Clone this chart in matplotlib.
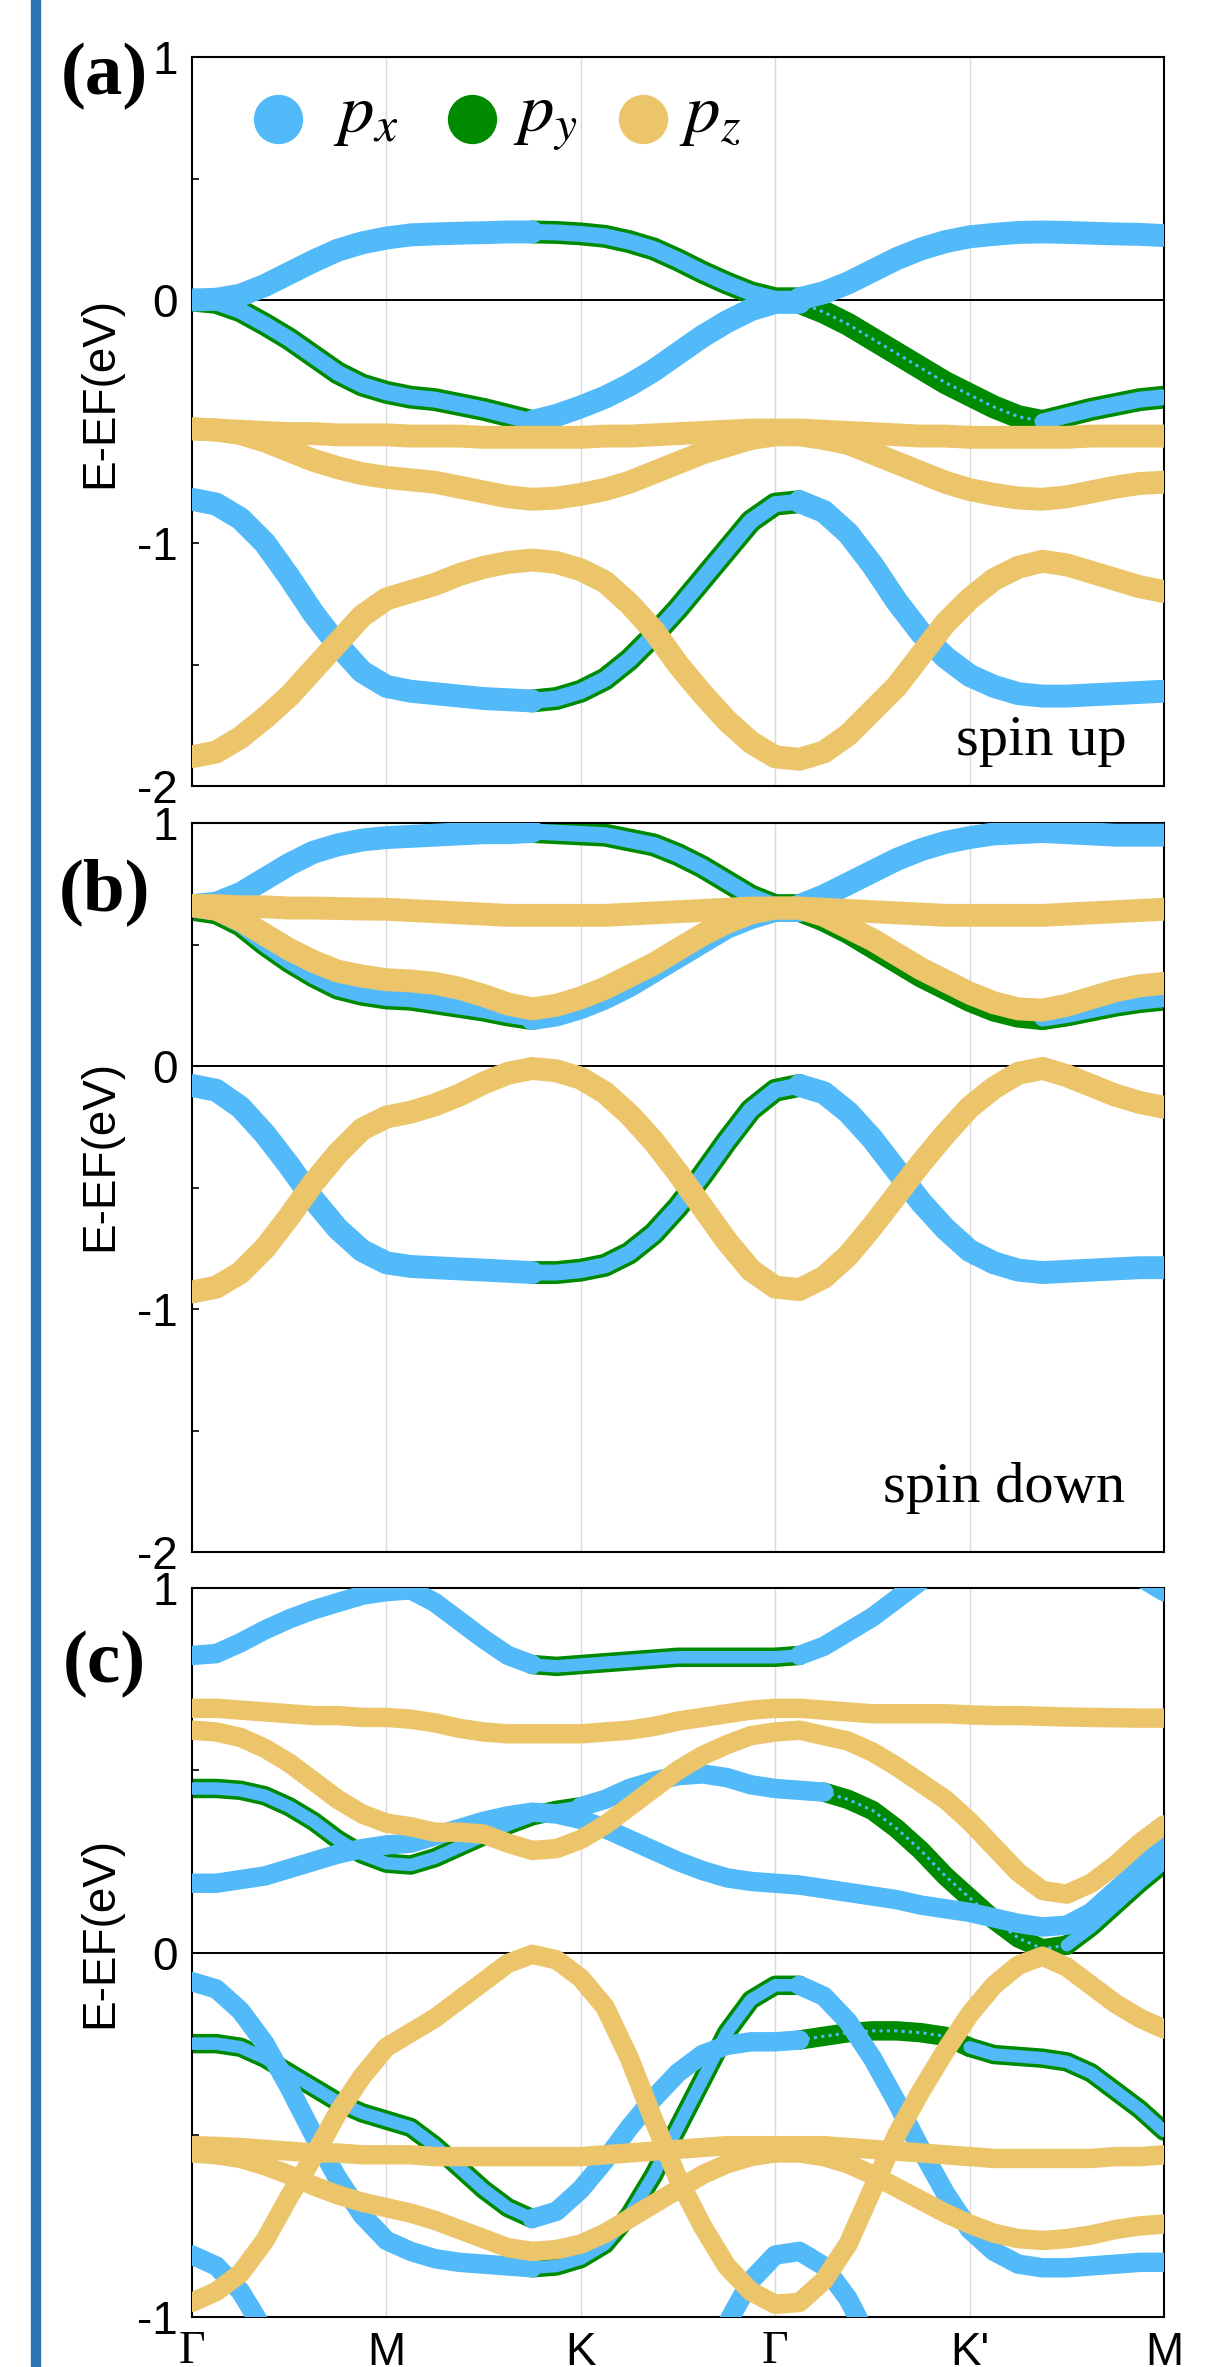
import numpy as np
import matplotlib
matplotlib.use("Agg")
import matplotlib.pyplot as plt
from matplotlib.patches import Rectangle

plt.rcParams['font.family'] = ['Liberation Sans', 'DejaVu Sans']
plt.rcParams['mathtext.fontset'] = 'stix'

BLUE = '#52BAF9'
GREEN = '#008A00'
GOLD = '#ECC56A'
BAR = '#2E75B6'

# k-path sampled 8 points per segment
kpath = np.arange(41) / 8.0
sym_pos = [0, 1, 2, 3, 4, 5]
sym_labels = ['Γ', 'M', 'K', 'Γ', "K'", 'M']
orbitals = ['$p_x$', '$p_y$', '$p_z$']

# ---------------- (a) spin up ----------------
a_px_top = [0.00, 0.003, 0.02, 0.06, 0.11, 0.16, 0.205, 0.235,
            0.255, 0.268, 0.272, 0.275, 0.277, 0.28, 0.28, 0.278,
            0.272, 0.262, 0.24, 0.21, 0.165, 0.115, 0.07, 0.03,
            0.005, 0.005, 0.03, 0.07, 0.12, 0.17, 0.21, 0.24,
            0.26, 0.27, 0.278, 0.28, 0.278, 0.275, 0.272, 0.27,
            0.265]
a_pxy_low = [0.00, -0.01, -0.045, -0.10, -0.16, -0.23, -0.30, -0.35,
             -0.38, -0.40, -0.41, -0.43, -0.45, -0.475, -0.50, -0.475,
             -0.44, -0.40, -0.35, -0.29, -0.22, -0.15, -0.09, -0.04,
             -0.01, -0.01, -0.05, -0.10, -0.16, -0.22, -0.28, -0.34,
             -0.39, -0.44, -0.48, -0.50, -0.475, -0.45, -0.43, -0.41,
             -0.40]
a_pz_flat = [-0.53, -0.535, -0.54, -0.545, -0.55, -0.55, -0.555, -0.555,
             -0.555, -0.56, -0.56, -0.56, -0.565, -0.565, -0.565, -0.565,
             -0.565, -0.56, -0.56, -0.555, -0.55, -0.545, -0.54, -0.535,
             -0.535, -0.535, -0.54, -0.545, -0.55, -0.555, -0.56, -0.56,
             -0.565, -0.565, -0.565, -0.565, -0.565, -0.56, -0.56, -0.56,
             -0.56]
a_pz_mid = [-0.53, -0.535, -0.55, -0.58, -0.62, -0.66, -0.69, -0.715,
            -0.73, -0.74, -0.75, -0.77, -0.79, -0.81, -0.82, -0.815,
            -0.80, -0.78, -0.75, -0.71, -0.67, -0.63, -0.60, -0.57,
            -0.555, -0.555, -0.57, -0.59, -0.63, -0.67, -0.71, -0.75,
            -0.78, -0.80, -0.815, -0.82, -0.81, -0.79, -0.77, -0.755,
            -0.75]
a_px_deep = [-0.82, -0.84, -0.90, -1.00, -1.14, -1.29, -1.42, -1.53,
             -1.59, -1.61, -1.62, -1.63, -1.64, -1.645, -1.65, -1.64,
             -1.61, -1.56, -1.48, -1.38, -1.27, -1.15, -1.03, -0.91,
             -0.84, -0.83, -0.87, -0.96, -1.09, -1.24, -1.37, -1.47,
             -1.545, -1.59, -1.62, -1.63, -1.63, -1.625, -1.62, -1.615,
             -1.61]
a_pz_deep = [-1.88, -1.86, -1.80, -1.72, -1.63, -1.52, -1.41, -1.30,
             -1.23, -1.20, -1.17, -1.13, -1.10, -1.08, -1.07, -1.08,
             -1.11, -1.16, -1.25, -1.36, -1.50, -1.62, -1.73, -1.82,
             -1.88, -1.89, -1.86, -1.79, -1.69, -1.59, -1.46, -1.33,
             -1.23, -1.15, -1.10, -1.075, -1.09, -1.12, -1.15, -1.18,
             -1.20]

# ---------------- (b) spin down ----------------
b_px_top = [0.66, 0.67, 0.71, 0.77, 0.83, 0.88, 0.91, 0.93,
            0.94, 0.945, 0.95, 0.955, 0.96, 0.96, 0.965, 0.96,
            0.955, 0.95, 0.93, 0.91, 0.87, 0.82, 0.76, 0.70,
            0.66, 0.66, 0.70, 0.75, 0.80, 0.85, 0.89, 0.92,
            0.94, 0.955, 0.96, 0.965, 0.96, 0.955, 0.95, 0.95,
            0.95]
b_pxy_low = [0.645, 0.63, 0.58, 0.50, 0.43, 0.37, 0.32, 0.295,
             0.28, 0.275, 0.26, 0.245, 0.23, 0.21, 0.195, 0.21,
             0.24, 0.28, 0.33, 0.39, 0.45, 0.51, 0.57, 0.61,
             0.64, 0.64, 0.60, 0.55, 0.49, 0.43, 0.37, 0.32,
             0.27, 0.23, 0.205, 0.195, 0.21, 0.23, 0.25, 0.265,
             0.275]
b_pz_flat = [0.66, 0.66, 0.655, 0.655, 0.65, 0.65, 0.648, 0.646,
             0.645, 0.64, 0.635, 0.63, 0.625, 0.62, 0.62, 0.62,
             0.62, 0.62, 0.625, 0.63, 0.635, 0.64, 0.645, 0.65,
             0.65, 0.65, 0.645, 0.64, 0.635, 0.63, 0.625, 0.62,
             0.62, 0.62, 0.62, 0.62, 0.625, 0.63, 0.635, 0.64,
             0.645]
b_pz_mid = [0.66, 0.645, 0.60, 0.54, 0.48, 0.43, 0.39, 0.37,
            0.355, 0.35, 0.34, 0.32, 0.29, 0.255, 0.235, 0.25,
            0.28, 0.32, 0.37, 0.42, 0.48, 0.54, 0.59, 0.63,
            0.65, 0.65, 0.62, 0.57, 0.52, 0.46, 0.40, 0.35,
            0.30, 0.26, 0.235, 0.23, 0.25, 0.28, 0.31, 0.33,
            0.34]
b_px_deep = [-0.08, -0.10, -0.17, -0.28, -0.41, -0.55, -0.67, -0.76,
             -0.81, -0.825, -0.83, -0.835, -0.84, -0.845, -0.85, -0.85,
             -0.84, -0.82, -0.77, -0.69, -0.58, -0.45, -0.31, -0.18,
             -0.10, -0.08, -0.11, -0.19, -0.30, -0.43, -0.56, -0.67,
             -0.76, -0.81, -0.84, -0.85, -0.845, -0.84, -0.835, -0.83,
             -0.83]
b_pz_deep = [-0.93, -0.91, -0.85, -0.75, -0.62, -0.48, -0.36, -0.26,
             -0.21, -0.19, -0.16, -0.12, -0.07, -0.03, -0.01, -0.02,
             -0.05, -0.11, -0.20, -0.31, -0.44, -0.58, -0.72, -0.84,
             -0.91, -0.92, -0.87, -0.78, -0.66, -0.53, -0.40, -0.28,
             -0.17, -0.09, -0.03, -0.01, -0.04, -0.08, -0.12, -0.15,
             -0.17]

# ---------------- (c) ----------------
c_u1 = [0.815, 0.82, 0.85, 0.885, 0.915, 0.94, 0.96, 0.98,
        0.99, 0.995, 0.96, 0.91, 0.86, 0.815, 0.79, 0.785,
        0.79, 0.795, 0.80, 0.805, 0.81, 0.81, 0.81, 0.81,
        0.81, 0.815, 0.84, 0.88, 0.92, 0.97, 1.02, 1.06,
        1.10, 1.12, 1.13, 1.13, 1.12, 1.10, 1.07, 1.03,
        0.99]
c_u2 = [0.67, 0.67, 0.665, 0.66, 0.655, 0.65, 0.65, 0.645,
        0.645, 0.64, 0.63, 0.615, 0.605, 0.60, 0.60, 0.60,
        0.60, 0.605, 0.61, 0.62, 0.635, 0.645, 0.655, 0.665,
        0.67, 0.67, 0.665, 0.66, 0.655, 0.655, 0.655, 0.655,
        0.652, 0.65, 0.65, 0.648, 0.646, 0.645, 0.644, 0.643,
        0.643]
c_u3 = [0.61, 0.605, 0.59, 0.56, 0.52, 0.47, 0.42, 0.38,
        0.355, 0.345, 0.33, 0.33, 0.325, 0.30, 0.28, 0.285,
        0.31, 0.35, 0.40, 0.45, 0.50, 0.54, 0.57, 0.595,
        0.605, 0.61, 0.595, 0.58, 0.55, 0.51, 0.465, 0.42,
        0.36, 0.29, 0.22, 0.17, 0.16, 0.19, 0.24, 0.30,
        0.35]
c_u4 = [0.45, 0.45, 0.445, 0.43, 0.40, 0.36, 0.31, 0.27,
        0.245, 0.24, 0.26, 0.29, 0.32, 0.35, 0.375, 0.39,
        0.40, 0.42, 0.45, 0.47, 0.485, 0.49, 0.48, 0.46,
        0.45, 0.445, 0.44, 0.42, 0.39, 0.34, 0.28, 0.21,
        0.15, 0.09, 0.04, 0.01, 0.02, 0.07, 0.13, 0.19,
        0.245]
c_u5 = [0.19, 0.19, 0.20, 0.21, 0.23, 0.25, 0.27, 0.285,
        0.295, 0.30, 0.32, 0.34, 0.36, 0.375, 0.385, 0.38,
        0.365, 0.34, 0.31, 0.28, 0.25, 0.225, 0.205, 0.195,
        0.19, 0.185, 0.175, 0.165, 0.155, 0.145, 0.13, 0.12,
        0.11, 0.095, 0.08, 0.07, 0.075, 0.11, 0.17, 0.23,
        0.29]
c_l1 = [-0.08, -0.10, -0.16, -0.25, -0.37, -0.50, -0.62, -0.72,
        -0.79, -0.82, -0.84, -0.85, -0.855, -0.86, -0.865, -0.86,
        -0.84, -0.80, -0.72, -0.61, -0.48, -0.35, -0.22, -0.13,
        -0.09, -0.09, -0.12, -0.19, -0.29, -0.41, -0.54, -0.66,
        -0.76, -0.82, -0.855, -0.865, -0.865, -0.86, -0.855, -0.85,
        -0.85]
c_l2 = [-0.25, -0.25, -0.26, -0.29, -0.33, -0.37, -0.41, -0.44,
        -0.46, -0.48, -0.53, -0.59, -0.65, -0.70, -0.73, -0.71,
        -0.65, -0.57, -0.48, -0.40, -0.33, -0.28, -0.255, -0.245,
        -0.245, -0.24, -0.23, -0.22, -0.215, -0.215, -0.22, -0.23,
        -0.26, -0.28, -0.285, -0.29, -0.30, -0.33, -0.38, -0.43,
        -0.49]
c_l3 = [-0.53, -0.532, -0.535, -0.54, -0.545, -0.55, -0.55, -0.555,
        -0.555, -0.555, -0.56, -0.56, -0.56, -0.56, -0.56, -0.56,
        -0.56, -0.555, -0.55, -0.545, -0.54, -0.535, -0.53, -0.53,
        -0.53, -0.53, -0.53, -0.535, -0.54, -0.545, -0.55, -0.555,
        -0.56, -0.565, -0.565, -0.565, -0.565, -0.565, -0.56, -0.56,
        -0.555]
c_l4 = [-0.96, -0.93, -0.88, -0.79, -0.67, -0.56, -0.44, -0.34,
        -0.26, -0.22, -0.18, -0.13, -0.08, -0.03, -0.005, -0.02,
        -0.07, -0.15, -0.29, -0.46, -0.62, -0.75, -0.86, -0.93,
        -0.965, -0.96, -0.90, -0.80, -0.65, -0.50, -0.38, -0.27,
        -0.17, -0.09, -0.035, -0.01, -0.04, -0.09, -0.14, -0.18,
        -0.21]
c_l5 = [-0.55, -0.555, -0.565, -0.585, -0.61, -0.64, -0.665, -0.685,
        -0.70, -0.715, -0.735, -0.76, -0.785, -0.81, -0.82, -0.815,
        -0.80, -0.77, -0.73, -0.69, -0.65, -0.61, -0.58, -0.56,
        -0.55, -0.55, -0.56, -0.58, -0.61, -0.645, -0.68, -0.715,
        -0.745, -0.77, -0.785, -0.79, -0.785, -0.775, -0.76, -0.75,
        -0.745]
c_l6 = [-0.83, -0.86, -0.93, -1.04, -1.17, -1.30, -1.42, -1.52,
        -1.58, -1.60, -1.61, -1.62, -1.63, -1.64, -1.64, -1.63,
        -1.60, -1.55, -1.46, -1.36, -1.25, -1.13, -1.02, -0.90,
        -0.83, -0.82, -0.86, -0.95, -1.08, -1.22, -1.35, -1.46,
        -1.54, -1.59, -1.62, -1.63, -1.63, -1.62, -1.62, -1.61,
        -1.61]

# orbital character of each stretch of a band (index ranges on kpath)
UPPER = [(0, 14, 'x'), (14, 25, 'xy'), (25, 40, 'x')]
LOWER = [(0, 14, 'xy'), (14, 25, 'x'), (25, 35, 'y'), (35, 40, 'xy')]
PZ = [(0, 40, 'z')]


def draw_band(ax, e, parts, w):
    e = np.asarray(e)
    kw = dict(solid_capstyle='round', solid_joinstyle='round')
    for i0, i1, st in parts:
        x = kpath[i0:i1 + 1]
        y = e[i0:i1 + 1]
        if st == 'z':
            ax.plot(x, y, color=GOLD, lw=w, zorder=4, **kw)
        elif st == 'x':
            ax.plot(x, y, color=BLUE, lw=w, zorder=3, **kw)
        elif st == 'xy':
            ax.plot(x, y, color=GREEN, lw=w, zorder=2, **kw)
            ax.plot(x, y, color=BLUE, lw=w - 5, zorder=3, **kw)
        elif st == 'y':
            ax.plot(x, y, color=GREEN, lw=w, zorder=2, **kw)
            ax.plot(x, y, color=BLUE, lw=2.2, ls=(0, (1, 1.4)), zorder=3)


def setup(ax, ylo, yhi, xlabels):
    ax.set_xlim(0, 5)
    ax.set_ylim(ylo, yhi)
    for x in [1, 2, 3, 4]:
        ax.axvline(x, color='#d9d9d9', lw=1.0, zorder=0)
    ax.axhline(0, color='black', lw=1.4, zorder=1)
    yt = np.arange(ylo, yhi + 1)
    ax.set_yticks(yt)
    ax.set_yticklabels(['%d' % v for v in yt])
    ax.set_yticks(np.arange(ylo + 0.5, yhi, 1.0), minor=True)
    ax.tick_params(axis='y', which='both', direction='in', length=5,
                   width=1.2, labelsize=33, pad=10, right=False)
    if xlabels:
        ax.set_xticks(sym_pos)
        ax.set_xticklabels(sym_labels)
        ax.tick_params(axis='x', length=0, labelsize=33, pad=10)
        for t in ax.get_xticklabels():
            if t.get_text() == 'Γ':
                t.set_fontfamily('Liberation Serif')
    else:
        ax.set_xticks([])
    for s in ax.spines.values():
        s.set_linewidth(1.5)


fig = plt.figure(figsize=(12.18, 23.67), dpi=100)
fig.patches.append(Rectangle((31 / 1218, 0), 9 / 1218, 1, transform=fig.transFigure,
                             color=BAR, zorder=0))

L, WD, H = 192 / 1218, 972 / 1218, 729 / 2367
ax_a = fig.add_axes([L, 1 - 786 / 2367, WD, H])
ax_b = fig.add_axes([L, 1 - 1552 / 2367, WD, H])
ax_c = fig.add_axes([L, 1 - 2317 / 2367, WD, H])

setup(ax_a, -2, 1, False)
setup(ax_b, -2, 1, False)
setup(ax_c, -1, 1, True)

W = 16.5
draw_band(ax_a, a_px_top, UPPER, W)
draw_band(ax_a, a_pxy_low, LOWER, W)
draw_band(ax_a, a_px_deep, UPPER, W)
draw_band(ax_a, a_pz_flat, PZ, W)
draw_band(ax_a, a_pz_mid, PZ, W)
draw_band(ax_a, a_pz_deep, PZ, W)

draw_band(ax_b, b_px_top, UPPER, W)
draw_band(ax_b, b_pxy_low, LOWER, W)
draw_band(ax_b, b_px_deep, UPPER, W)
draw_band(ax_b, b_pz_flat, PZ, W)
draw_band(ax_b, b_pz_mid, PZ, W)
draw_band(ax_b, b_pz_deep, PZ, W)

WC = 14
draw_band(ax_c, c_u1, UPPER, WC)
draw_band(ax_c, c_u4, [(0, 16, 'xy'), (16, 26, 'x'), (26, 36, 'y'), (36, 40, 'xy')], WC)
draw_band(ax_c, c_u5, [(0, 40, 'x')], WC)
draw_band(ax_c, c_l1, UPPER, WC)
draw_band(ax_c, c_l2, [(0, 14, 'xy'), (14, 25, 'x'), (25, 32, 'y'), (32, 40, 'xy')], WC)
draw_band(ax_c, c_l6, [(0, 40, 'x')], WC)
for band in (c_u2, c_u3, c_l3, c_l4, c_l5):
    draw_band(ax_c, band, PZ, WC)

# orbital key in (a)
key_marker_x = [0.0885, 0.2881, 0.464]
key_text_x = [0.145, 0.330, 0.501]
for mx, tx, col, lab in zip(key_marker_x, key_text_x, (BLUE, GREEN, GOLD), orbitals):
    ax_a.plot([mx], [0.915], marker='o', ms=34.5, color=col, mec=col, ls='none',
              transform=ax_a.transAxes, zorder=6, clip_on=False)
    ax_a.text(tx, 0.897, lab, transform=ax_a.transAxes, fontsize=51,
              va='baseline', ha='left', zorder=6)

ax_a.text(0.962, 0.0425, 'spin up', transform=ax_a.transAxes, ha='right',
          va='baseline', fontsize=42, family='Liberation Serif')
ax_b.text(0.960, 0.068, 'spin down', transform=ax_b.transAxes, ha='right',
          va='baseline', fontsize=42, family='Liberation Serif')

for lab, yc in (('(a)', 76), ('(b)', 892), ('(c)', 1664)):
    fig.text(104 / 1218, 1 - yc / 2367, lab, fontsize=54, fontweight='bold',
             family='Liberation Serif', ha='center', va='center')

for yc in (392, 1155, 1932):
    fig.text(100 / 1218, 1 - yc / 2367, 'E-EF(eV)', rotation=90, fontsize=33,
             ha='center', va='center')

fig.savefig('out.png', dpi=100)
